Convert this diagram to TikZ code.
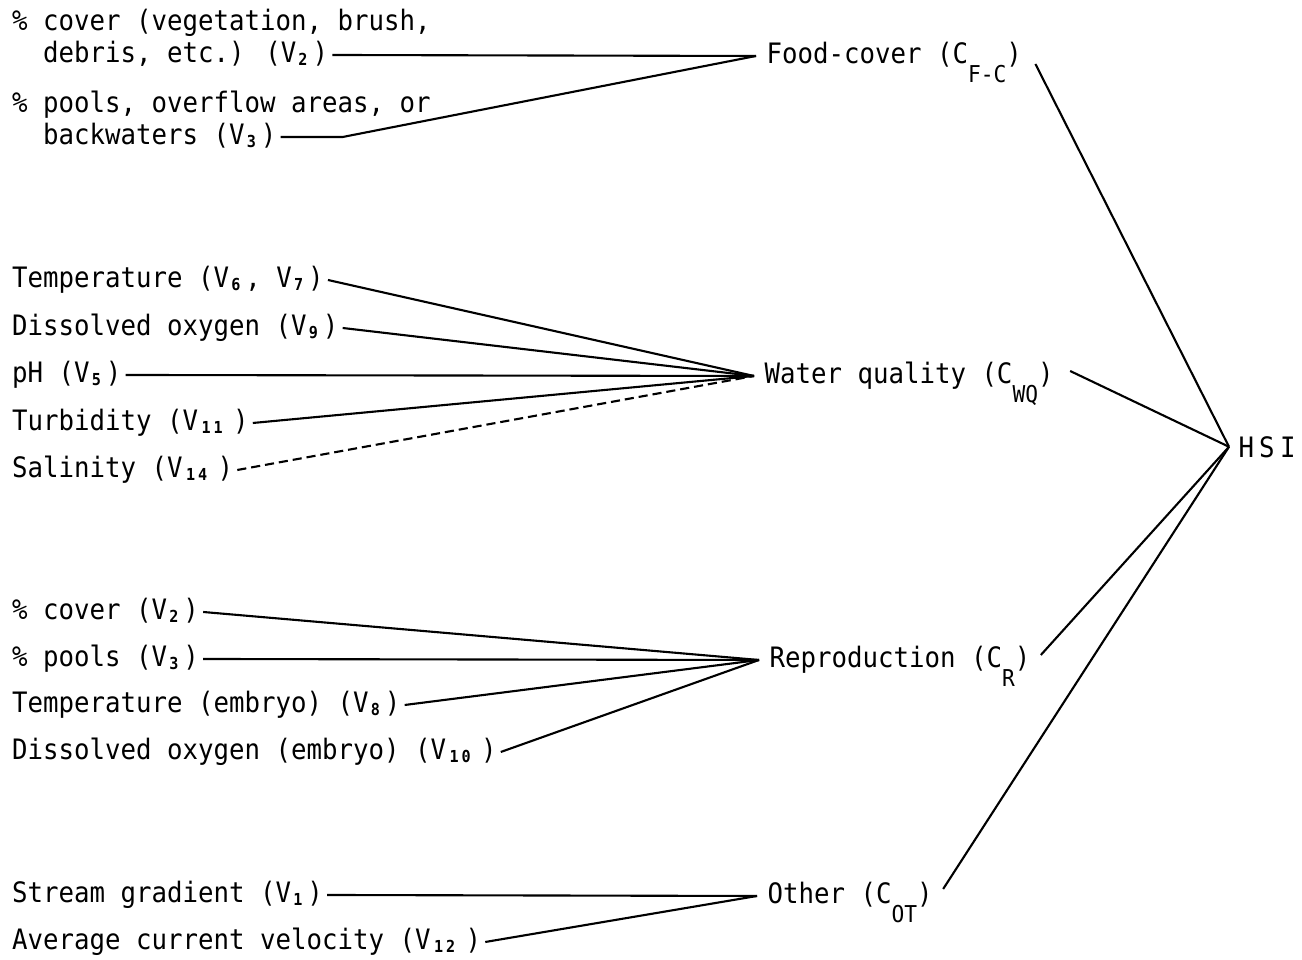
\documentclass[tikz,border=0pt]{standalone}
\usepackage{fontspec}
\setmainfont{DejaVu Sans Mono}[FakeStretch=0.915]
\newlength\mycw \setlength\mycw{4.41pt}
\newcommand\subf{\fontsize{4.7}{5}\selectfont\bfseries}
\newcommand\sd[1]{\makebox[1.05\mycw][l]{\hspace{0.6pt}\raisebox{-0.9pt}{\subf #1}}}
\newcommand\dd[2]{\makebox[2.25\mycw][l]{\hspace{1pt}\raisebox{-0.9pt}{\subf #1\hspace{0.8pt}#2}}}
\newcommand\cs[1]{\raisebox{-5.6pt}[0pt][0pt]{\fontsize{6.6}{7}\selectfont #1}}
\begin{document}
\begin{tikzpicture}[x=0.01cm,y=-0.01cm,
  lbl/.style={anchor=base west, inner xsep=1pt, inner ysep=0pt, text height=5.4pt, text depth=1.4pt, font=\fontsize{8}{9}\selectfont},
  cat/.style={lbl, inner xsep=2.8pt},
  link/.style={line width=0.6pt}]
\useasboundingbox (0,0) rectangle (1302,959);
% group 1
\node[lbl] (t1) at (8,30) {\% cover (vegetation, brush,};
\node[lbl] (v2a) at (39,62) {debris, etc.) (V\sd{2})};
\node[lbl] (t3) at (8,112) {\% pools, overflow areas, or};
\node[lbl] (v3a) at (39,144) {backwaters (V\sd{3})};
% group 2
\node[lbl] (v67) at (8,287) {Temperature (V\sd{6}, V\sd{7})};
\node[lbl] (v9) at (8,335) {Dissolved oxygen (V\sd{9})};
\node[lbl] (v5) at (8,382) {pH (V\sd{5})};
\node[lbl] (v11) at (8,430) {Turbidity (V\dd{1}{1})};
\node[lbl] (v14) at (8,477) {Salinity (V\dd{1}{4})};
% group 3
\node[lbl] (v2b) at (8,619) {\% cover (V\sd{2})};
\node[lbl] (v3b) at (8,666) {\% pools (V\sd{3})};
\node[lbl] (v8) at (8,712) {Temperature (embryo) (V\sd{8})};
\node[lbl] (v10) at (8,759) {Dissolved oxygen (embryo) (V\dd{1}{0})};
% group 4
\node[lbl] (v1) at (8,902) {Stream gradient (V\sd{1})};
\node[lbl] (v12) at (8,949) {Average current velocity (V\dd{1}{2})};
% categories
\node[cat] (fc) at (756,63) {Food-cover (C\cs{F-C})};
\node[cat] (wq) at (754,383) {Water quality (C\cs{WQ})};
\node[cat] (rp) at (759,667) {Reproduction (C\cs{R})};
\node[cat] (ot) at (757,903) {Other (C\cs{OT})};
\node[anchor=base west, inner xsep=2.5pt, inner ysep=0pt, font=\fontsize{8}{9}\selectfont] (hsi) at (1229,457) {H\kern1.5pt S\kern1.5pt I};
% connectors
\draw[link] (v2a.east) -- (fc.west);
\draw[link] (v3a.east) -- ++(62,0) -- (fc.west);
\foreach \n in {v67,v9,v5,v11} \draw[link] (\n.east) -- (wq.west);
\draw[link, dash pattern=on 2.6pt off 1.4pt] (v14.east) -- (wq.west);
\foreach \n in {v2b,v3b,v8,v10} \draw[link] (\n.east) -- (rp.west);
\foreach \n in {v1,v12} \draw[link] (\n.east) -- (ot.west);
\draw[link] ([shift={(3,8)}]fc.east) -- (hsi.west);
\draw[link] ([shift={(6,-5)}]wq.east) -- (hsi.west);
\draw[link] ([shift={(0,-5)}]rp.east) -- (hsi.west);
\draw[link] ([shift={(0,-7)}]ot.east) -- (hsi.west);
\end{tikzpicture}
\end{document}
